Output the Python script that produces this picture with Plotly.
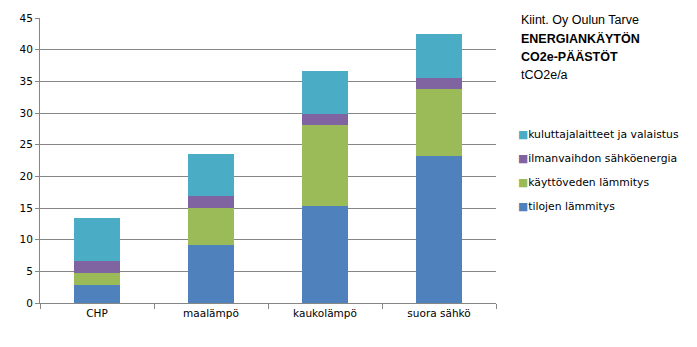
import plotly.graph_objects as go

categories = ["CHP", "maalämpö", "kaukolämpö", "suora sähkö"]
tilojen = [2.8, 9.2, 15.3, 23.2]
kayttovesi = [2.0, 5.8, 12.8, 10.6]
ilmanvaihto = [1.9, 1.9, 1.7, 1.7]
kuluttaja = [6.7, 6.7, 6.9, 6.9]

series = [
    ("tilojen lämmitys", tilojen, "#4F81BD"),
    ("käyttöveden lämmitys", kayttovesi, "#9BBB59"),
    ("ilmanvaihdon sähköenergia", ilmanvaihto, "#8064A2"),
    ("kuluttajalaitteet ja valaistus", kuluttaja, "#4BACC6"),
]
title_lines = ["Kiint. Oy Oulun Tarve", "<b>ENERGIANKÄYTÖN</b>", "<b>CO2e-PÄÄSTÖT</b>", "tCO2e/a"]

W, H = 697, 347
ML, MR, MT, MB = 40, 201, 15, 44
PW, PH = W - ML - MR, H - MT - MB

def px(x):
    return (x - ML) / PW

def py(y):
    return (H - MB - y) / PH

fig = go.Figure()
for name, vals, col in series:
    fig.add_trace(go.Bar(x=categories, y=vals, name=name, marker_color=col,
                         marker_line_width=0, hoverinfo="skip", showlegend=False))

annotations = []
for i, line in enumerate(title_lines):
    annotations.append(dict(
        xref="paper", yref="paper", x=px(519), y=py(17 + i * 18.5),
        xanchor="left", yanchor="middle", align="left", showarrow=False,
        text=line, font=dict(family="Liberation Sans", size=12.5, color="#000000")))

# legend (top item = last series)
for i, (name, vals, col) in enumerate(reversed(series)):
    annotations.append(dict(
        xref="paper", yref="paper", x=px(516), y=py(133 + i * 24),
        xanchor="left", yanchor="middle", align="left", showarrow=False,
        text=f"<span style='color:{col}'>■</span>{name}",
        font=dict(family="DejaVu Sans", size=10.8, color="#000000")))

fig.update_layout(
    barmode="stack",
    bargap=0.6,
    width=W, height=H,
    margin=dict(l=ML, r=MR, t=MT, b=MB),
    plot_bgcolor="white", paper_bgcolor="white",
    font=dict(family="DejaVu Sans", size=10.5, color="#000000"),
    showlegend=False,
    annotations=annotations,
)
fig.update_yaxes(range=[0, 45], dtick=5, showgrid=True, gridcolor="#868686", gridwidth=1,
                 showline=True, linecolor="#868686", ticks="outside", ticklen=4,
                 tickcolor="#868686", zeroline=False, fixedrange=True)
fig.update_xaxes(showline=True, linecolor="#868686", ticks="outside", ticklen=5,
                 tickcolor="#868686", tickson="boundaries", fixedrange=True)

fig.write_html("out.html")
